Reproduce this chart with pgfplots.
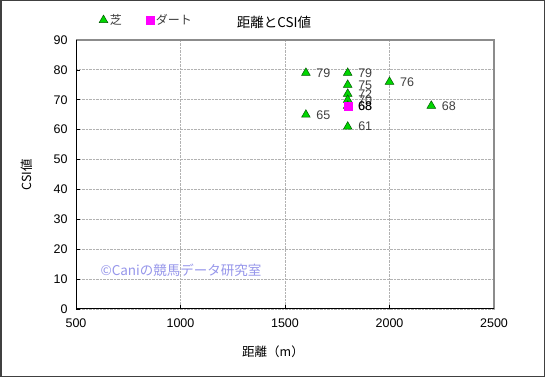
\documentclass[border=0pt]{standalone}
\usepackage{pgfplots}
\pgfplotsset{compat=1.18}
\usepackage{fontspec}
\setmainfont{Liberation Sans}
\newfontfamily\jp{Noto Sans CJK JP}
\definecolor{turf}{RGB}{0,214,0}
\definecolor{turfedge}{RGB}{0,90,0}
\definecolor{dirt}{RGB}{255,0,255}
\definecolor{lbl}{RGB}{64,64,64}
\definecolor{wm}{RGB}{150,150,235}
\begin{document}
\begin{tikzpicture}[x=1pt,y=1pt]
\fill[white] (0,0) rectangle (545,377);
\draw[line width=1.5pt, black!75] (0.75,0.75) rectangle (544.25,376.25);
\begin{axis}[
  at={(76pt,68pt)}, anchor=south west,
  scale only axis, width=418pt, height=269pt,
  xmin=500, xmax=2500, ymin=0, ymax=90,
  xtick={500,1000,...,2500}, ytick={0,10,...,90},
  axis line style={draw=none},
  grid=major,
  grid style={densely dotted, black!30, line width=0.8pt},
  tick style={black, line width=0.6pt},
  major tick length=4pt,
  tick align=inside,
  xtick pos=bottom, ytick pos=left,
  /pgf/number format/assume math mode=true,
  /pgf/number format/1000 sep={},
  tick label style={font=\fontsize{12.5}{14}\selectfont, black},
  xticklabel style={yshift=-6pt},
  yticklabel style={xshift=-5pt},
  clip=false,
  legend columns=2,
  legend style={draw=none, fill=none, at={(0.055,1.074)}, anchor=west,
    font=\jp\fontsize{12}{14}\selectfont\color{lbl},
    /tikz/every even column/.append style={column sep=22pt},
    inner sep=0pt},
  legend cell align=left,
  nodes near coords,
  point meta=explicit symbolic,
  every node near coord/.append style={anchor=west, xshift=7pt, font=\fontsize{12.5}{14}\selectfont},
]
\addplot[only marks, mark=triangle*, mark size=5pt, mark options={fill=turf, draw=turfedge, line width=0.5pt},
  every node near coord/.append style={text=lbl}]
  table[meta=l] {
x y l
1600 79 79
1800 79 79
1800 75 75
1800 72 72
1800 70 70
1800 68 68
2000 76 76
2200 68 68
1600 65 65
1800 61 61
};
\addlegendentry{芝}
\addplot[only marks, mark=square*, mark size=4pt, mark options={fill=dirt, draw=dirt},
  every node near coord/.append style={text=black}]
  table[meta=l] {
x y l
1800 68 68
};
\addlegendentry{ダート}
\end{axis}
\draw[black!45, line width=1.2pt] (76,337) -- (494,337) -- (494,68);
\draw[black, line width=1pt] (76,337) -- (76,68) -- (494,68);
\node[font=\jp\fontsize{13.5}{16}\selectfont] at (274,355) {距離とCSI値};
\node[font=\jp\fontsize{12.5}{15}\selectfont] at (273,25) {距離（m）};
\node[font=\jp\fontsize{12.5}{15}\selectfont, rotate=90] at (27,202) {CSI値};
\node[font=\jp\fontsize{13.5}{15}\selectfont, text=wm, anchor=west] at (97,107) {©Caniの競馬データ研究室};
\end{tikzpicture}
\end{document}
